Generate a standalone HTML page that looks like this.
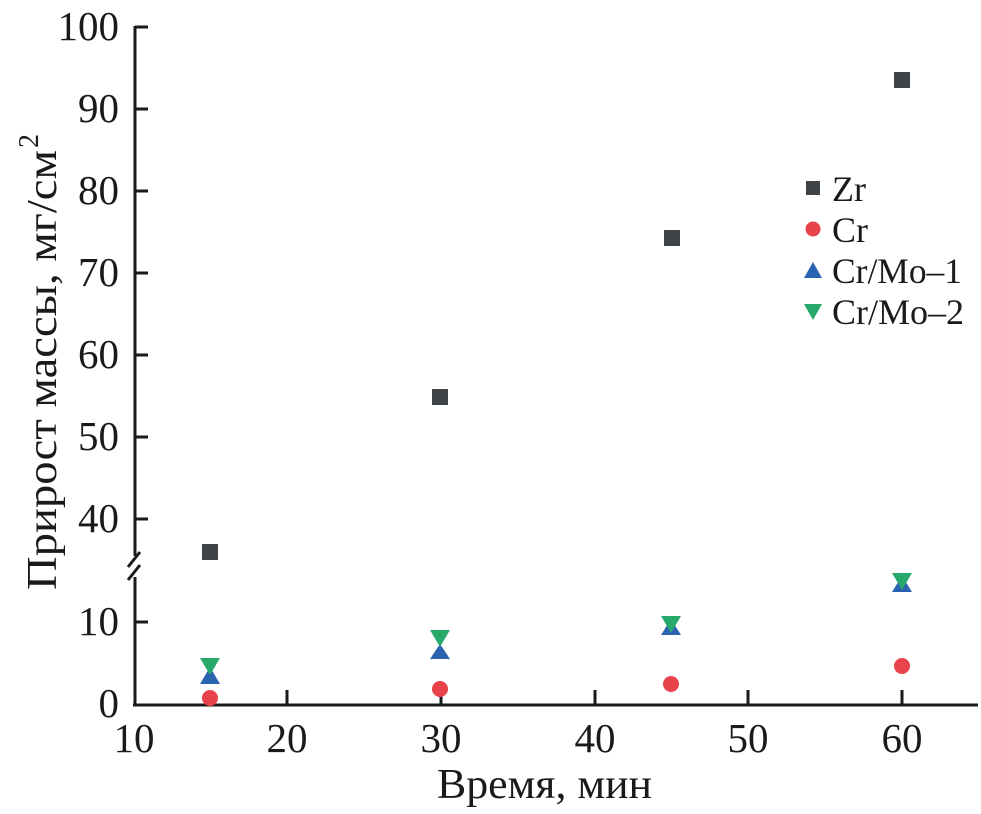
<!DOCTYPE html>
<html><head><meta charset="utf-8"><style>
html,body{margin:0;padding:0;background:#fff;}
svg{display:block;}
text{font-family:"Liberation Serif",serif;fill:#1a1a1a;}
</style></head><body>
<svg width="981" height="814" viewBox="0 0 981 814" xmlns="http://www.w3.org/2000/svg">
<g stroke="#1a1a1a" stroke-width="3" fill="none">
<line x1="135" y1="26" x2="135" y2="556"/>
<line x1="135" y1="577" x2="135" y2="705"/>
<line x1="128" y1="567" x2="140" y2="552"/>
<line x1="128" y1="580" x2="140" y2="565"/>
<line x1="133" y1="705" x2="978" y2="705"/>
<line x1="135" y1="27" x2="148" y2="27"/>
<line x1="135" y1="109" x2="148" y2="109"/>
<line x1="135" y1="191" x2="148" y2="191"/>
<line x1="135" y1="273" x2="148" y2="273"/>
<line x1="135" y1="355" x2="148" y2="355"/>
<line x1="135" y1="437" x2="148" y2="437"/>
<line x1="135" y1="519" x2="148" y2="519"/>
<line x1="135" y1="622" x2="148" y2="622"/>
<line x1="287" y1="690" x2="287" y2="705"/>
<line x1="441" y1="690" x2="441" y2="705"/>
<line x1="595" y1="690" x2="595" y2="705"/>
<line x1="748" y1="690" x2="748" y2="705"/>
<line x1="902" y1="690" x2="902" y2="705"/>
</g>
<g font-size="41" text-anchor="end">
<text x="119" y="40">100</text>
<text x="119" y="122">90</text>
<text x="119" y="204">80</text>
<text x="119" y="286">70</text>
<text x="119" y="368">60</text>
<text x="119" y="450">50</text>
<text x="119" y="532">40</text>
<text x="119" y="635">10</text>
<text x="119" y="717">0</text>
</g>
<g font-size="41" text-anchor="middle">
<text x="134" y="752">10</text>
<text x="287" y="752">20</text>
<text x="441" y="752">30</text>
<text x="595" y="752">40</text>
<text x="748" y="752">50</text>
<text x="902" y="752">60</text>
</g>
<text font-size="42" x="437" y="798" textLength="215" lengthAdjust="spacingAndGlyphs">Время, мин</text>
<g transform="translate(56,590) rotate(-90)">
<text font-size="42" x="0" y="0" textLength="440" lengthAdjust="spacingAndGlyphs">Прирост массы, мг/см</text>
<text font-size="28" x="442" y="-18">2</text>
</g>
<g fill="#3d4346">
<rect x="202" y="544" width="16" height="16"/>
<rect x="432" y="389" width="16" height="16"/>
<rect x="664" y="230" width="16" height="16"/>
<rect x="894" y="72" width="16" height="16"/>
<rect x="806" y="181" width="14" height="14"/>
</g>
<g fill="#e8424a">
<circle cx="210" cy="698" r="8"/>
<circle cx="440" cy="689" r="8"/>
<circle cx="671" cy="684" r="8"/>
<circle cx="902" cy="666" r="8"/>
<circle cx="813" cy="229" r="7.5"/>
</g>
<g fill="#2a63b0">
<polygon points="210,667 200,684 220,684"/>
<polygon points="440,644 430,659 450,659"/>
<polygon points="671,619 661,635 681,635"/>
<polygon points="902,576 892,592 912,592"/>
<polygon points="813,262 804,278 822,278"/>
</g>
<g fill="#27a96c">
<polygon points="200,658 220,658 210,675"/>
<polygon points="430,630 450,630 440,647"/>
<polygon points="661,616 681,616 671,633"/>
<polygon points="892,573 912,573 902,590"/>
<polygon points="804,304 822,304 813,320"/>
</g>
<g font-size="36">
<text x="832" y="201">Zr</text>
<text x="832" y="242">Cr</text>
<text x="832" y="283" textLength="130" lengthAdjust="spacingAndGlyphs">Cr/Mo–1</text>
<text x="832" y="324" textLength="132" lengthAdjust="spacingAndGlyphs">Cr/Mo–2</text>
</g>
</svg>
</body></html>
